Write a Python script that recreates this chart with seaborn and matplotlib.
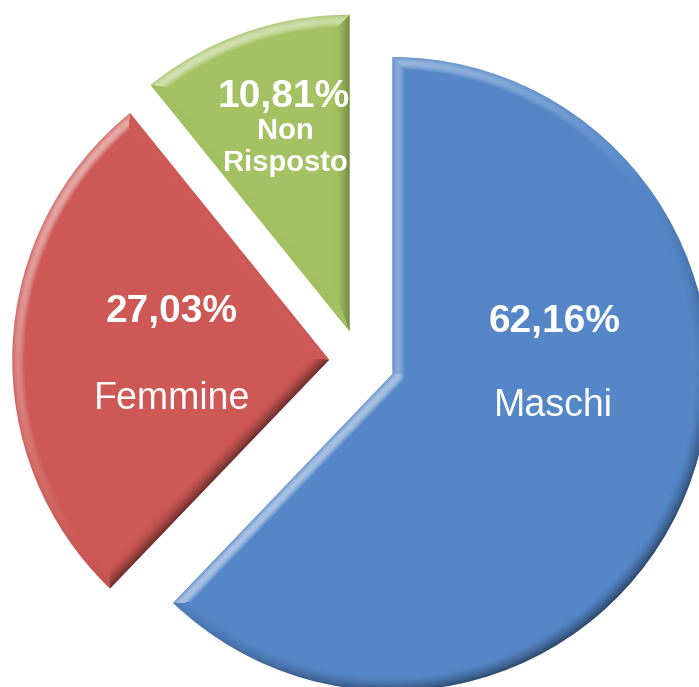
import numpy as np
import matplotlib
matplotlib.use("Agg")
import matplotlib.pyplot as plt
import seaborn as sns

# Survey answers by gender (percent)
categories = ["Maschi", "Femmine", "Non Risposto"]
shares = [62.16, 27.03, 10.81]
palette_hex = ["#5587C8", "#CD5855", "#A4C263"]

sns.set_theme(style="white")
plt.rcParams["font.family"] = ["Liberation Sans", "DejaVu Sans"]

W, H = 699, 687
fig = plt.figure(figsize=(W / 100, H / 100), dpi=100)
fig.patch.set_facecolor("white")
ax = fig.add_axes([0, 0, 1, 1])

# pixel -> data mapping (pie of radius 1 drawn at a fixed pixel scale)
SCALE = 317.0
CX, CY = 360.0, 361.0


def to_data(px, py):
    return (px - CX) / SCALE, (CY - py) / SCALE


wedges, _ = ax.pie(
    shares,
    colors=sns.color_palette(palette_hex),
    startangle=90,
    counterclock=False,
    explode=[0.11, 0.097, 0.098],
    radius=1,
    wedgeprops=dict(linewidth=0, antialiased=True),
)

x0, y0 = to_data(0, H)
x1, y1 = to_data(W, 0)

# bevel shading: lighter on edges facing the upper-left light, darker elsewhere
pxs = np.arange(W) + 0.5
pys = np.arange(H) + 0.5
GX, GY = np.meshgrid((pxs - CX) / SCALE, (CY - pys) / SCALE)
light = np.array([-0.6, 0.8])
bevel = 0.05


def bevel_overlay(w):
    cx, cy = w.center
    r = w.r
    t1, t2 = np.radians(w.theta1), np.radians(w.theta2)
    rx, ry = GX - cx, GY - cy
    rho = np.hypot(rx, ry) + 1e-9
    dists = [r - rho]
    nxs = [rx / rho]
    nys = [ry / rho]
    for t, sign in ((t1, 1.0), (t2, -1.0)):
        ux, uy = np.cos(t), np.sin(t)
        proj = np.clip(rx * ux + ry * uy, 0, r)
        d = np.hypot(rx - proj * ux, ry - proj * uy)
        dists.append(d)
        nxs.append(np.full_like(d, sign * np.sin(t)))
        nys.append(np.full_like(d, -sign * np.cos(t)))
    D = np.stack(dists)
    NX = np.stack(nxs)
    NY = np.stack(nys)
    idx = np.argmin(D, axis=0)
    d = np.take_along_axis(D, idx[None], 0)[0]
    nx = np.take_along_axis(NX, idx[None], 0)[0]
    ny = np.take_along_axis(NY, idx[None], 0)[0]
    u = np.clip(d / bevel, 0, 1)
    # lit edges: band peaking a little inside the rim; shaded edges: darkest at rim
    lit_profile = np.sin(np.pi * np.clip(u * 1.1 + 0.1, 0, 1)) ** 1.2
    dark_profile = (1 - u) ** 1.6
    facing = nx * light[0] + ny * light[1]
    rgba = np.zeros((H, W, 4))
    pos = facing > 0
    rgba[pos, :3] = 1.0
    alpha = np.where(pos, facing * lit_profile * 0.5, -facing * dark_profile * 0.5)
    rgba[..., 3] = np.clip(alpha, 0, 1)
    return rgba


for w in wedges:
    im = ax.imshow(
        bevel_overlay(w),
        extent=(x0, x1, y0, y1),
        origin="upper",
        interpolation="bilinear",
        aspect="auto",
        zorder=w.get_zorder() + 0.1,
    )
    im.set_clip_path(w)

ax.set_xlim(x0, x1)
ax.set_ylim(y0, y1)
ax.set_aspect("auto")
ax.axis("off")


def pct(v):
    return f"{v:.2f}%".replace(".", ",")


big = 28
name_size = 27
small = 21
# Maschi
ax.text(*to_data(555, 322), pct(shares[0]), color="white", fontsize=big,
        fontweight="bold", ha="center", va="center", zorder=5)
ax.text(*to_data(553, 406), categories[0], color="white", fontsize=name_size,
        ha="center", va="center", zorder=5)
# Femmine
ax.text(*to_data(172, 312), pct(shares[1]), color="white", fontsize=big,
        fontweight="bold", ha="center", va="center", zorder=5)
ax.text(*to_data(172, 399), categories[1], color="white", fontsize=name_size,
        ha="center", va="center", zorder=5)
# Non Risposto
ax.text(*to_data(284, 97), pct(shares[2]), color="white", fontsize=big,
        fontweight="bold", ha="center", va="center", zorder=5)
ax.text(*to_data(285, 131), categories[2].split()[0], color="white", fontsize=small,
        fontweight="bold", ha="center", va="center", zorder=5)
ax.text(*to_data(285, 163), categories[2].split()[1], color="white", fontsize=small,
        fontweight="bold", ha="center", va="center", zorder=5)

fig.savefig("out.png", dpi=100, facecolor="white")
